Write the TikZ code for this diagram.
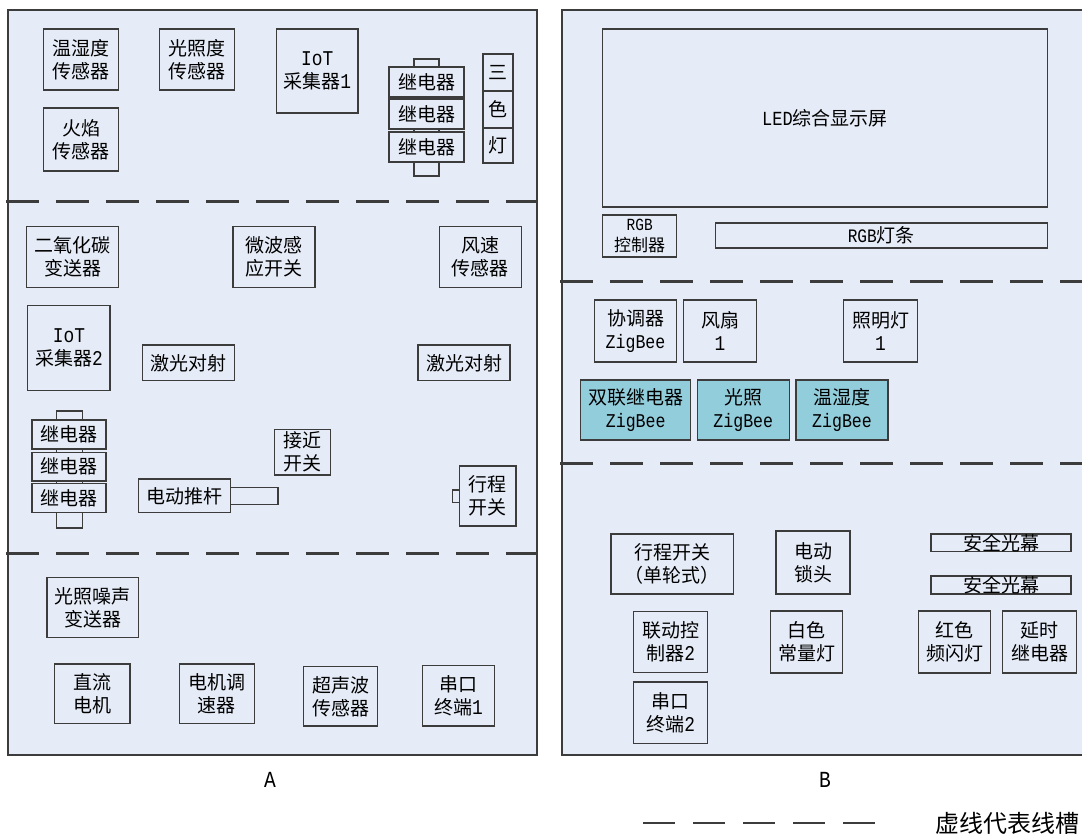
\documentclass[tikz,border=0pt]{standalone}
\usepackage{fontspec}
\setmainfont{Noto Sans CJK SC}
\newfontfamily\lat[FakeStretch=0.85]{Liberation Mono}
\definecolor{panelbg}{HTML}{E6ECF7}
\definecolor{zigteal}{HTML}{92CDDC}
\definecolor{edge}{HTML}{3C3C3C}
\newcommand{\zig}{{\lat\fontsize{19.5}{23}\selectfont ZigBee}}
\newcommand{\dg}[1]{{\lat\fontsize{21}{23}\selectfont #1}}
\begin{document}
\begin{tikzpicture}[x=1pt,y=-1pt,
  box/.style={draw=edge, line width=1.4pt, fill=panelbg, inner sep=0pt, align=center, font=\fontsize{19}{23}\selectfont},
  zb/.style={box, fill=zigteal},
  plain/.style={draw=edge, line width=1.4pt},
  panelline/.style={draw=edge, line width=2pt},
  slot/.style={draw=edge, line width=3pt, dash pattern=on 33pt off 17pt},
  legenddash/.style={draw=edge, line width=2.6pt, dash pattern=on 32pt off 18pt},
  lbl/.style={inner sep=0pt, font=\fontsize{19}{23}\selectfont}
]
\useasboundingbox (0,0) rectangle (1082,833);
\fill[white] (0,0) rectangle (1082,833);

% ---------------- Panel A ----------------
\fill[panelbg] (8,9.5) rectangle (537,755);
\draw[panelline] (8,9.5) rectangle (537,755);
\draw[slot] (6,201) -- (537,201);
\draw[slot] (6,553) -- (537,553);

\node[box, minimum width=75.3pt, minimum height=61pt] (wsdA) at (81,59.5) {温湿度\\传感器};
\node[box, minimum width=75pt, minimum height=61pt] (gzdA) at (197,59.5) {光照度\\传感器};
\node[box, minimum width=81.2pt, minimum height=84pt] (iot1) at (317.3,71) {\dg{IoT}\\采集器\dg{1}};
\node[box, minimum width=75.3pt, minimum height=63pt] (hy) at (81,139.5) {火焰\\传感器};

\draw[plain] (414,59) rectangle (439,176);
\node[box, minimum width=75pt, minimum height=30pt] (jdq1) at (426.5,82) {继电器};
\node[box, minimum width=75pt, minimum height=30pt] (jdq2) at (426.5,114) {继电器};
\node[box, minimum width=75pt, minimum height=30pt] (jdq3) at (426.5,147) {继电器};

\node[box, minimum width=30pt, minimum height=37pt] (sd1) at (498,72.5) {三};
\node[box, minimum width=30pt, minimum height=37pt] (sd2) at (498,109.5) {色};
\node[box, minimum width=30pt, minimum height=35pt] (sd3) at (498,145.5) {灯};

\node[box, minimum width=92.3pt, minimum height=61pt] (co2) at (72.5,257.2) {二氧化碳\\变送器};
\node[box, minimum width=82pt, minimum height=61pt] (wb) at (274.1,257.2) {微波感\\应开关};
\node[box, minimum width=82.3pt, minimum height=61pt] (fs) at (480.4,257.2) {风速\\传感器};
\node[box, minimum width=82.3pt, minimum height=84.6pt] (iot2) at (68.9,348) {\dg{IoT}\\采集器\dg{2}};
\node[box, minimum width=92.3pt, minimum height=35.7pt] (jg1) at (188.4,362.8) {激光对射};
\node[box, minimum width=92.3pt, minimum height=35.7pt] (jg2) at (464,362.8) {激光对射};

\draw[plain] (56.4,411) rectangle (82.3,528);
\node[box, minimum width=73.7pt, minimum height=29pt] (jdq4) at (69,434.5) {继电器};
\node[box, minimum width=73.7pt, minimum height=28.7pt] (jdq5) at (69,466.7) {继电器};
\node[box, minimum width=73.7pt, minimum height=29.4pt] (jdq6) at (69,498) {继电器};

\node[box, minimum width=56.3pt, minimum height=45.7pt] (jj) at (302.5,452.2) {接近\\开关};
\draw[plain] (230.3,487.7) rectangle (278,504.3);
\node[box, minimum width=91.9pt, minimum height=33.7pt] (dd) at (184.3,495.8) {电动推杆};
\draw[plain] (452.3,490) rectangle (459.2,502.3);
\node[box, minimum width=56.8pt, minimum height=60pt] (xc) at (487.6,496) {行程\\开关};

\node[box, minimum width=91.6pt, minimum height=59.6pt] (gzzs) at (92.9,607.5) {光照噪声\\变送器};
\node[box, minimum width=75.4pt, minimum height=59.3pt] (zl) at (92.4,693.7) {直流\\电机};
\node[box, minimum width=75.3pt, minimum height=59.3pt] (tsq) at (216.9,693.7) {电机调\\速器};
\node[box, minimum width=74pt, minimum height=59.3pt] (csb) at (340.6,696.3) {超声波\\传感器};
\node[box, minimum width=72.3pt, minimum height=60.7pt] (ck1) at (458.4,695.7) {串口\\终端\dg{1}};

% ---------------- Panel B ----------------
\fill[panelbg] (562,9.5) rectangle (1082,755);
\draw[panelline] (1083,9.5) -- (562,9.5) -- (562,755) -- (1083,755);
\draw[slot] (560,281) -- (1082,281);
\draw[slot] (560,463) -- (1082,463);

\node[box, minimum width=444.6pt, minimum height=178pt] (led) at (825,118) {{\lat\fontsize{20}{22}\selectfont LED}综合显示屏};
\node[box, minimum width=74pt, minimum height=42pt, font=\fontsize{17}{21}\selectfont] (rgbc) at (639.7,236) {{\lat\fontsize{17}{18}\selectfont RGB}\\控制器};
\node[box, minimum width=332pt, minimum height=25pt] (rgbd) at (881.3,235.5) {{\lat\fontsize{19}{20}\selectfont RGB}灯条};

\node[box, minimum width=82.4pt, minimum height=62.3pt] (xtq) at (635.5,331) {协调器\\\zig};
\node[box, minimum width=73.4pt, minimum height=62.3pt] (fan) at (720,331) {风扇\\\dg{1}};
\node[box, minimum width=73.6pt, minimum height=62.3pt] (zmd) at (880.5,331) {照明灯\\\dg{1}};
\node[zb, minimum width=110pt, minimum height=60pt] (sl) at (635.7,410) {双联继电器\\\zig};
\node[zb, minimum width=92pt, minimum height=60pt] (gzB) at (743.3,410) {光照\\\zig};
\node[zb, minimum width=92pt, minimum height=60pt] (wsdB) at (842,410) {温湿度\\\zig};

\node[box, minimum width=122.3pt, minimum height=60pt] (xckg) at (672.2,564) {行程开关\\（单轮式）};
\node[box, minimum width=74pt, minimum height=63pt] (dslt) at (813,562.5) {电动\\锁头};
\node[box, minimum width=140pt, minimum height=17.7pt] (aq1) at (1001,542.9) {};
\node[lbl] (aq1t) at (aq1) {安全光幕};
\node[box, minimum width=140pt, minimum height=18pt] (aq2) at (1001,585) {};
\node[lbl] (aq2t) at (aq2) {安全光幕};
\node[box, minimum width=74pt, minimum height=61.4pt] (ld) at (670.7,642) {联动控\\制器\dg{2}};
\node[box, minimum width=72pt, minimum height=62pt] (bs) at (806.7,642) {白色\\常量灯};
\node[box, minimum width=72.4pt, minimum height=62pt] (hs) at (954.5,642) {红色\\频闪灯};
\node[box, minimum width=74pt, minimum height=62pt] (ys) at (1039.7,642) {延时\\继电器};
\node[box, minimum width=74pt, minimum height=61.3pt] (ck2) at (670.7,712.7) {串口\\终端\dg{2}};

% ---------------- Labels and legend ----------------
\node[lbl] (labA) at (270,780) {\lat\fontsize{23}{25}\selectfont A};
\node[lbl] (labB) at (825,780) {\lat\fontsize{23}{25}\selectfont B};
\coordinate (lgs) at (643,823);
\coordinate (lge) at (876,823);
\draw[legenddash] (lgs) -- (lge);
\node[lbl, font=\fontsize{24}{28}\selectfont] (lgt) at (1007,823) {虚线代表线槽};
\end{tikzpicture}
\end{document}
